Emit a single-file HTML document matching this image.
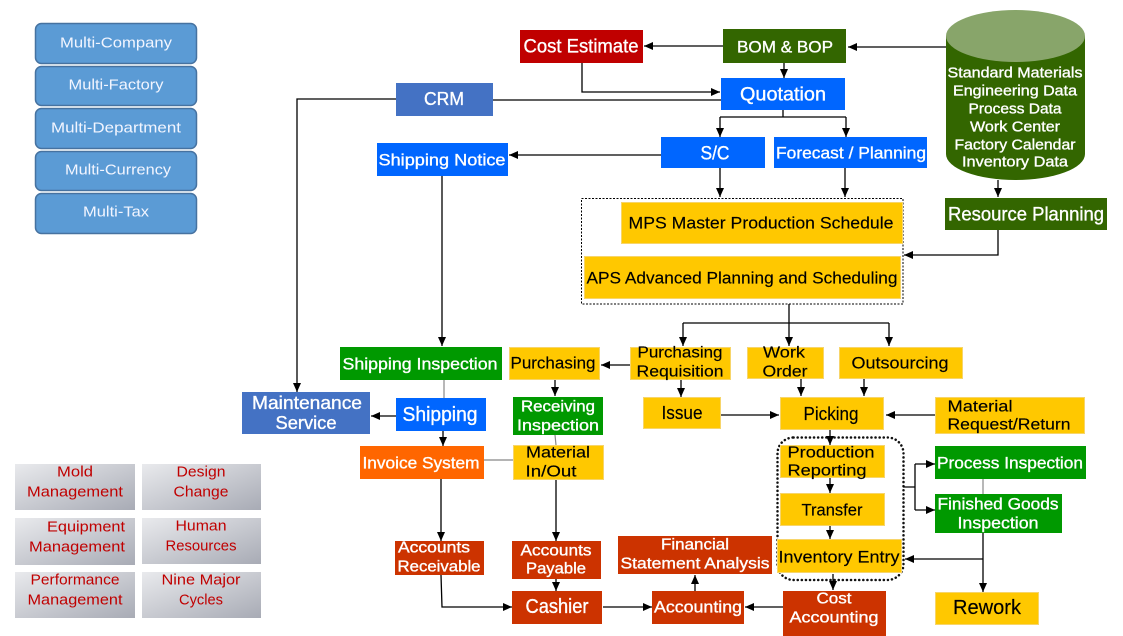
<!DOCTYPE html>
<html><head><meta charset="utf-8">
<style>
html,body{margin:0;padding:0;background:#fff;width:1123px;height:636px;overflow:hidden}
svg{display:block}
text{font-family:"Liberation Sans",sans-serif;dominant-baseline:central;text-anchor:middle}
.w text{fill:#fff;stroke:#fff;stroke-width:0.35}
.k text{fill:#000;stroke:#000;stroke-width:0.15}
.r text{fill:#c00000}
.s text{fill:#f2f5ff}
</style></head><body>
<svg width="1123" height="636" viewBox="0 0 1123 636" xmlns="http://www.w3.org/2000/svg">
<defs>
<marker id="a" markerUnits="userSpaceOnUse" markerWidth="9" markerHeight="8" refX="9" refY="4" orient="auto">
<path d="M0,0 L9,4 L0,8 z" fill="#000"/></marker>
<linearGradient id="g" x1="0" y1="0" x2="1" y2="1">
<stop offset="0" stop-color="#e9eaed"/><stop offset="1" stop-color="#a8abb5"/></linearGradient>
</defs>

<!-- sidebar -->
<g fill="#5b9bd5" stroke="#4672a0" stroke-width="1.5">
<rect x="35.5" y="23.5" width="161" height="40" rx="6"/>
<rect x="35.5" y="66.5" width="161" height="39" rx="6"/>
<rect x="35.5" y="108.5" width="161" height="40" rx="6"/>
<rect x="35.5" y="151.5" width="161" height="39" rx="6"/>
<rect x="35.5" y="193.5" width="161" height="40" rx="6"/>
</g>
<g font-size="15" class="s">
<text x="116" y="43" textLength="112" lengthAdjust="spacingAndGlyphs">Multi-Company</text>
<text x="116" y="85" textLength="95" lengthAdjust="spacingAndGlyphs">Multi-Factory</text>
<text x="116" y="128" textLength="130" lengthAdjust="spacingAndGlyphs">Multi-Department</text>
<text x="118" y="170" textLength="106" lengthAdjust="spacingAndGlyphs">Multi-Currency</text>
<text x="116" y="212" textLength="66" lengthAdjust="spacingAndGlyphs">Multi-Tax</text>
</g>

<!-- gray boxes -->
<g fill="url(#g)">
<rect x="15" y="464" width="120" height="46"/>
<rect x="142" y="464" width="119" height="46"/>
<rect x="15" y="518" width="120" height="47"/>
<rect x="142" y="518" width="119" height="46"/>
<rect x="15" y="572" width="120" height="46"/>
<rect x="142" y="572" width="119" height="46"/>
</g>
<g font-size="15" class="r">
<text x="75" y="472" textLength="36" lengthAdjust="spacingAndGlyphs">Mold</text>
<text x="75" y="492" textLength="96" lengthAdjust="spacingAndGlyphs">Management</text>
<text x="201" y="472" textLength="49" lengthAdjust="spacingAndGlyphs">Design</text>
<text x="201" y="492" textLength="55" lengthAdjust="spacingAndGlyphs">Change</text>
<text x="86" y="527" textLength="78" lengthAdjust="spacingAndGlyphs">Equipment</text>
<text x="77" y="547" textLength="96" lengthAdjust="spacingAndGlyphs">Management</text>
<text x="201" y="526" textLength="51" lengthAdjust="spacingAndGlyphs">Human</text>
<text x="201" y="546" textLength="71" lengthAdjust="spacingAndGlyphs">Resources</text>
<text x="75" y="580" textLength="89" lengthAdjust="spacingAndGlyphs">Performance</text>
<text x="75" y="600" textLength="95" lengthAdjust="spacingAndGlyphs">Management</text>
<text x="201" y="580" textLength="79" lengthAdjust="spacingAndGlyphs">Nine Major</text>
<text x="201" y="600" textLength="44" lengthAdjust="spacingAndGlyphs">Cycles</text>
</g>

<!-- cylinder -->
<path d="M946,36 L946,154 A69.5,26 0 0 0 1085,154 L1085,36 Z" fill="#336600"/>
<ellipse cx="1015.5" cy="36" rx="69.5" ry="26" fill="#88a56a"/>
<g font-size="15" class="w">
<text x="1015" y="73" textLength="135" lengthAdjust="spacingAndGlyphs">Standard Materials</text>
<text x="1015" y="91" textLength="124" lengthAdjust="spacingAndGlyphs">Engineering Data</text>
<text x="1015" y="109" textLength="93" lengthAdjust="spacingAndGlyphs">Process Data</text>
<text x="1015" y="127" textLength="90" lengthAdjust="spacingAndGlyphs">Work Center</text>
<text x="1015" y="145" textLength="121" lengthAdjust="spacingAndGlyphs">Factory Calendar</text>
<text x="1015" y="162" textLength="106" lengthAdjust="spacingAndGlyphs">Inventory Data</text>
</g>

<!-- dashed/dotted containers -->
<rect x="581.5" y="198.5" width="321.5" height="105.5" fill="none" stroke="#000" stroke-width="1" stroke-dasharray="2,1.5"/>
<rect x="777.5" y="437.5" width="126" height="142.5" rx="16" fill="none" stroke="#111" stroke-width="2.5" stroke-dasharray="0.1,4" stroke-linecap="round"/>

<!-- boxes -->
<rect x="520" y="30" width="123" height="33" fill="#c00000"/>
<rect x="723" y="29" width="123" height="34" fill="#336600"/>
<rect x="721" y="78" width="124" height="32" fill="#0066ff"/>
<rect x="396" y="83" width="97" height="33" fill="#4472c4"/>
<rect x="661" y="137" width="104" height="31" fill="#0066ff"/>
<rect x="774" y="137" width="153" height="31" fill="#0066ff"/>
<rect x="377" y="143" width="131" height="33" fill="#0066ff"/>
<rect x="945" y="198" width="162" height="32" fill="#336600"/>
<rect x="340" y="347" width="162" height="33" fill="#009900"/>
<rect x="242" y="392" width="128" height="42" fill="#4472c4"/>
<rect x="396" y="398" width="90" height="33" fill="#0066ff"/>
<rect x="513" y="397" width="90" height="38" fill="#009900"/>
<rect x="360" y="446" width="124" height="33" fill="#ff6600"/>
<rect x="935" y="446" width="151" height="33" fill="#009900"/>
<rect x="935" y="494" width="127" height="39" fill="#009900"/>
<g fill="#cc3300">
<rect x="395" y="541" width="89" height="34"/>
<rect x="512" y="541" width="89" height="38"/>
<rect x="618" y="536" width="154" height="38"/>
<rect x="512" y="591" width="90" height="33"/>
<rect x="652" y="591" width="92" height="33"/>
<rect x="783" y="591" width="103" height="45"/>
</g>
<g fill="#ffc800" stroke="#f7d56a" stroke-width="1">
<rect x="621.5" y="202.5" width="281" height="41"/>
<rect x="584.5" y="256.5" width="316" height="42"/>
<rect x="630.5" y="347.5" width="100" height="32"/>
<rect x="747.5" y="347.5" width="76" height="31"/>
<rect x="839.5" y="347.5" width="123" height="31"/>
<rect x="509.5" y="347.5" width="90" height="32"/>
<rect x="643.5" y="397.5" width="77" height="31"/>
<rect x="780.5" y="397.5" width="103" height="32"/>
<rect x="935.5" y="397.5" width="149" height="36"/>
<rect x="513.5" y="445.5" width="90" height="34"/>
<rect x="780.5" y="445.5" width="104" height="32"/>
<rect x="780.5" y="493.5" width="104" height="32"/>
<rect x="777.5" y="539.5" width="124" height="33"/>
<rect x="935.5" y="592.5" width="103" height="32"/>
</g>

<!-- white labels -->
<g class="w">
<text x="581" y="47" font-size="19" textLength="115" lengthAdjust="spacingAndGlyphs">Cost Estimate</text>
<text x="785" y="47" font-size="17" textLength="96" lengthAdjust="spacingAndGlyphs">BOM &amp; BOP</text>
<text x="783" y="95" font-size="19" textLength="86" lengthAdjust="spacingAndGlyphs">Quotation</text>
<text x="444" y="99" font-size="18" textLength="40" lengthAdjust="spacingAndGlyphs">CRM</text>
<text x="715" y="154" font-size="19" textLength="29" lengthAdjust="spacingAndGlyphs">S/C</text>
<text x="851" y="153" font-size="17" textLength="150" lengthAdjust="spacingAndGlyphs">Forecast / Planning</text>
<text x="442" y="160" font-size="17" textLength="127" lengthAdjust="spacingAndGlyphs">Shipping Notice</text>
<text x="1026" y="215" font-size="19" textLength="156" lengthAdjust="spacingAndGlyphs">Resource Planning</text>
<text x="420" y="364" font-size="17" textLength="155" lengthAdjust="spacingAndGlyphs">Shipping Inspection</text>
<text x="307" y="403" font-size="18" textLength="110" lengthAdjust="spacingAndGlyphs">Maintenance</text>
<text x="306" y="423" font-size="18" textLength="61" lengthAdjust="spacingAndGlyphs">Service</text>
<text x="440" y="415" font-size="20" textLength="75" lengthAdjust="spacingAndGlyphs">Shipping</text>
<text x="558" y="407" font-size="16" textLength="74" lengthAdjust="spacingAndGlyphs">Receiving</text>
<text x="558" y="426" font-size="16" textLength="82" lengthAdjust="spacingAndGlyphs">Inspection</text>
<text x="421" y="463" font-size="17" textLength="117" lengthAdjust="spacingAndGlyphs">Invoice System</text>
<text x="1010" y="463" font-size="17" textLength="146" lengthAdjust="spacingAndGlyphs">Process Inspection</text>
<text x="998" y="504" font-size="17" textLength="121" lengthAdjust="spacingAndGlyphs">Finished Goods</text>
<text x="998" y="523" font-size="17" textLength="81" lengthAdjust="spacingAndGlyphs">Inspection</text>
<text x="434" y="548" font-size="16" textLength="72" lengthAdjust="spacingAndGlyphs">Accounts</text>
<text x="439" y="567" font-size="16" textLength="83" lengthAdjust="spacingAndGlyphs">Receivable</text>
<text x="556" y="551" font-size="16" textLength="71" lengthAdjust="spacingAndGlyphs">Accounts</text>
<text x="556" y="569" font-size="16" textLength="60" lengthAdjust="spacingAndGlyphs">Payable</text>
<text x="695" y="545" font-size="16" textLength="68" lengthAdjust="spacingAndGlyphs">Financial</text>
<text x="695" y="564" font-size="16" textLength="149" lengthAdjust="spacingAndGlyphs">Statement Analysis</text>
<text x="557" y="607" font-size="20" textLength="63" lengthAdjust="spacingAndGlyphs">Cashier</text>
<text x="698" y="607" font-size="17" textLength="88" lengthAdjust="spacingAndGlyphs">Accounting</text>
<text x="834" y="599" font-size="16" textLength="35" lengthAdjust="spacingAndGlyphs">Cost</text>
<text x="834" y="618" font-size="16" textLength="89" lengthAdjust="spacingAndGlyphs">Accounting</text>
</g>

<!-- black labels -->
<g class="k">
<text x="761" y="223" font-size="17" textLength="265" lengthAdjust="spacingAndGlyphs">MPS  Master Production Schedule</text>
<text x="742" y="278" font-size="17" textLength="311" lengthAdjust="spacingAndGlyphs">APS Advanced Planning and Scheduling</text>
<text x="680" y="353" font-size="16" textLength="85" lengthAdjust="spacingAndGlyphs">Purchasing</text>
<text x="680" y="372" font-size="16" textLength="87" lengthAdjust="spacingAndGlyphs">Requisition</text>
<text x="784" y="353" font-size="16" textLength="42" lengthAdjust="spacingAndGlyphs">Work</text>
<text x="785" y="372" font-size="16" textLength="45" lengthAdjust="spacingAndGlyphs">Order</text>
<text x="900" y="363" font-size="17" textLength="97" lengthAdjust="spacingAndGlyphs">Outsourcing</text>
<text x="553" y="363" font-size="17" textLength="85" lengthAdjust="spacingAndGlyphs">Purchasing</text>
<text x="682" y="413" font-size="18" textLength="41" lengthAdjust="spacingAndGlyphs">Issue</text>
<text x="831" y="414" font-size="18" textLength="55" lengthAdjust="spacingAndGlyphs">Picking</text>
<text x="980" y="407" font-size="16" textLength="65" lengthAdjust="spacingAndGlyphs">Material</text>
<text x="1009" y="425" font-size="16" textLength="123" lengthAdjust="spacingAndGlyphs">Request/Return</text>
<text x="558" y="453" font-size="16" textLength="64" lengthAdjust="spacingAndGlyphs">Material</text>
<text x="551" y="472" font-size="16" textLength="51" lengthAdjust="spacingAndGlyphs">In/Out</text>
<text x="831" y="453" font-size="16" textLength="87" lengthAdjust="spacingAndGlyphs">Production</text>
<text x="827" y="471" font-size="16" textLength="79" lengthAdjust="spacingAndGlyphs">Reporting</text>
<text x="832" y="510" font-size="17" textLength="61" lengthAdjust="spacingAndGlyphs">Transfer</text>
<text x="839" y="557" font-size="17" textLength="121" lengthAdjust="spacingAndGlyphs">Inventory Entry</text>
<text x="987" y="608" font-size="20" textLength="68" lengthAdjust="spacingAndGlyphs">Rework</text>
</g>

<!-- connectors -->
<g fill="none" stroke="#000" stroke-width="1.3">
<path d="M723,46 H644" marker-end="url(#a)"/>
<path d="M946,47 H848" marker-end="url(#a)"/>
<path d="M784,63 V78" marker-end="url(#a)"/>
<path d="M582,63 V92 H720" marker-end="url(#a)"/>
<path d="M493,100 H721"/>
<path d="M396,99 H297 V392" marker-end="url(#a)"/>
<path d="M783,110 V117 M720,117 H846"/>
<path d="M720,117 V137" marker-end="url(#a)"/>
<path d="M846,117 V137" marker-end="url(#a)"/>
<path d="M661,155 H509" marker-end="url(#a)"/>
<path d="M442,176 V346" marker-end="url(#a)"/>
<path d="M720,168 V197" marker-end="url(#a)"/>
<path d="M845,168 V197" marker-end="url(#a)"/>
<path d="M998,180 V197" marker-end="url(#a)"/>
<path d="M998,230 V255 H904" marker-end="url(#a)"/>
<path d="M789,304 V323 M683,323 H889"/>
<path d="M683,323 V346" marker-end="url(#a)"/>
<path d="M789,323 V346" marker-end="url(#a)"/>
<path d="M889,323 V346" marker-end="url(#a)"/>
<path d="M630,365 H601" marker-end="url(#a)"/>
<path d="M555,380 V396" marker-end="url(#a)"/>
<path d="M681,380 V397" marker-end="url(#a)"/>
<path d="M801,379 V396" marker-end="url(#a)"/>
<path d="M864,379 V396" marker-end="url(#a)"/>
<path d="M721,415 H779" marker-end="url(#a)"/>
<path d="M935,415 H886" marker-end="url(#a)"/>
<path d="M396,416 H371" marker-end="url(#a)"/>
<path d="M443,431 V446" marker-end="url(#a)"/>
<path d="M441,479 V541" marker-end="url(#a)"/>
<path d="M556,480 V541" marker-end="url(#a)"/>
<path d="M556,579 V591" marker-end="url(#a)"/>
<path d="M441,575 L442,607 H512" marker-end="url(#a)"/>
<path d="M603,607 H652" marker-end="url(#a)"/>
<path d="M695,591 V575" marker-end="url(#a)"/>
<path d="M783,607 H745" marker-end="url(#a)"/>
<path d="M830,430 V445" marker-end="url(#a)"/>
<path d="M830,478 V493" marker-end="url(#a)"/>
<path d="M830,526 V539" marker-end="url(#a)"/>
<path d="M833,574 V590" marker-end="url(#a)"/>
<path d="M903,487 H915 M915,464 V510"/>
<path d="M915,464 H935" marker-end="url(#a)"/>
<path d="M915,510 H935" marker-end="url(#a)"/>
<path d="M983,533 V592" marker-end="url(#a)"/>
<path d="M983,559 H905" marker-end="url(#a)"/>
</g>
<g fill="none" stroke="#888" stroke-width="1.2">
<path d="M444,380 V398"/>
<path d="M484,460 H513"/>
<path d="M555,435 L556,445"/>
<path d="M983,479 V494"/>
</g>
</svg>
</body></html>
